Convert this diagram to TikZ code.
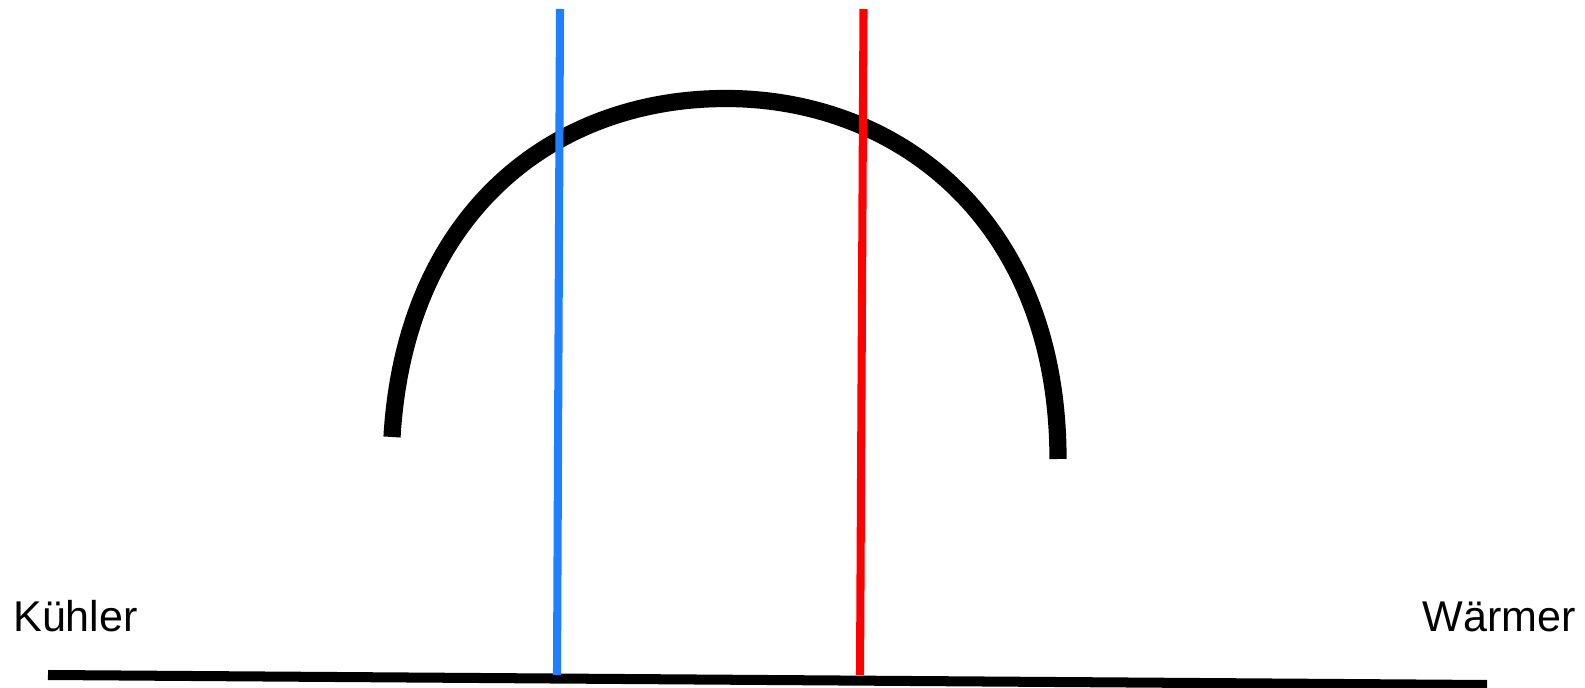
\documentclass[tikz,border=0pt]{standalone}
\usepackage{fontspec}
\setmainfont{Liberation Sans}
\usepackage{tikz}
\usetikzlibrary{positioning}

\definecolor{coolblue}{RGB}{30,127,255}
\definecolor{warmred}{RGB}{255,0,0}

\begin{document}
\begin{tikzpicture}[
  x=0.02cm, y=-0.02cm,
  lbl/.style={inner sep=0pt, font=\fontsize{24.5}{29}\selectfont},
  marker/.style={line width=4.6pt, draw=#1},
  curve/.style={line width=9.8pt, black},
  base/.style={line width=5.7pt, black}
]
  \useasboundingbox (0,0) rectangle (1585,688);

  % Labels
  \node[lbl, anchor=base west] (cool) at (13,631) {Kühler};
  \node[lbl, anchor=base east] (warm) at (1576,631) {Wärmer};

  % Axis
  \coordinate (axisL) at (48,675);
  \coordinate (axisR) at (1487,685);
  \draw[base] (axisL) -- (axisR);

  % Curve
  \coordinate (curveL) at (392,437);
  \coordinate (curveT) at (726,98.5);
  \coordinate (curveR) at (1058,459);
  \draw[curve] (curveL) .. controls (405,214) and (552,98.5) .. (curveT)
    .. controls (899,98.5) and (1058,221) .. (curveR);

  % Markers
  \coordinate (blueTop) at (560,9);
  \coordinate (blueBot) at (557,675);
  \coordinate (redTop) at (863.5,9);
  \coordinate (redBot) at (860,675);
  \draw[marker=coolblue] (blueTop) -- (blueBot);
  \draw[marker=warmred] (redTop) -- (redBot);
\end{tikzpicture}
\end{document}
